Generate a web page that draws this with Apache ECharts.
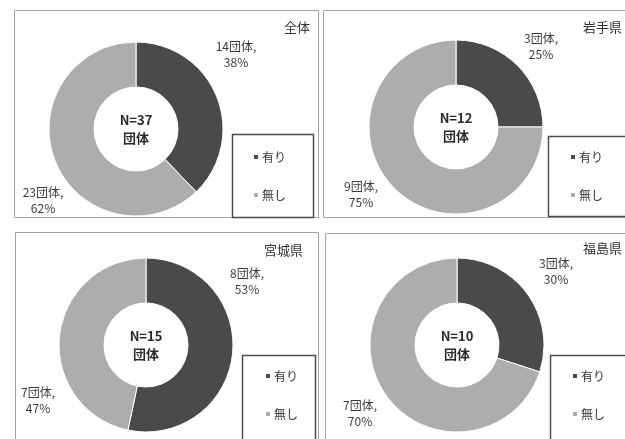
<!DOCTYPE html>
<html>
<head>
<meta charset="utf-8">
<script src="https://cdn.jsdelivr.net/npm/echarts@6/dist/echarts.min.js"></script>
<style>
  html, body { margin: 0; padding: 0; background: #ffffff; }
  #chart { width: 625px; height: 439px; }
</style>
</head>
<body>
<div id="chart"></div>
<script>
// Regions shown in the four donut panels
const regions = ['全体', '岩手県', '宮城県', '福島県'];
// Categories of the answer
const categories = ['有り', '無し'];
// Number of groups answering "有り" / "無し" per region
const countYes = [14, 3, 8, 3];
const countNo = [23, 9, 7, 7];

// Panel layout (pixels): frame, donut centre, legend box, legend items, title, label anchors
const layout = [
  { frame: [14, 10, 304, 207], center: [136, 129], legendBox: [232, 134, 81, 83], legend: [247, 145], title: [310, 27],
    labels: [[236, 54], [43, 200]] },
  { frame: [323, 10, 310, 207], center: [456, 127], legendBox: [548, 136, 85, 80], legend: [564, 145], title: [622, 27],
    labels: [[541, 46], [361, 194]] },
  { frame: [15, 232, 303, 215], center: [146, 345], legendBox: [242, 355, 73, 90], legend: [259, 364], title: [303, 250],
    labels: [[247, 281], [38, 400]] },
  { frame: [325, 233, 310, 215], center: [457, 345], legendBox: [550, 355, 85, 90], legend: [566, 364], title: [622, 248],
    labels: [[556, 271], [360, 413]] }
];

const DARK = '#4a4a4a';
const LIGHT = '#adadad';
const FONT = '"Noto Sans CJK JP", "Noto Sans", sans-serif';

const chart = echarts.init(document.getElementById('chart'), null, { renderer: 'canvas' });

const series = [];
const legends = [];
const graphics = [];

regions.forEach(function (name, i) {
  const L = layout[i];
  const total = countYes[i] + countNo[i];

  // panel frame
  graphics.push({
    type: 'rect', z: 0, silent: true,
    shape: { x: L.frame[0] + 0.5, y: L.frame[1] + 0.5, width: L.frame[2], height: L.frame[3] },
    style: { fill: '#ffffff', stroke: '#a3a3a3', lineWidth: 1 }
  });
  // legend box
  graphics.push({
    type: 'rect', z: 1, silent: true,
    shape: { x: L.legendBox[0] + 0.5, y: L.legendBox[1] + 0.5, width: L.legendBox[2], height: L.legendBox[3] },
    style: { fill: 'none', stroke: '#4d4d4d', lineWidth: 1.5 }
  });
  // region title
  graphics.push({
    type: 'text', z: 5, silent: true,
    x: L.title[0], y: L.title[1],
    style: { text: name, fill: '#333333', font: '13px ' + FONT, textAlign: 'right', textVerticalAlign: 'middle' }
  });

  legends.push({
    left: L.legend[0], top: L.legend[1],
    orient: 'vertical',
    data: categories,
    icon: 'rect',
    itemWidth: 6, itemHeight: 6,
    itemGap: 24,
    selectedMode: false,
    textStyle: { fontFamily: FONT, fontSize: 12, color: '#333333', lineHeight: 14, padding: [0, 0, 0, -2] }
  });

  series.push({
    type: 'pie',
    name: name,
    center: L.center,
    radius: [42, 87],
    startAngle: 90,
    clockwise: true,
    avoidLabelOverlap: false,
    silent: true,
    itemStyle: { borderColor: '#ffffff', borderWidth: 1 },
    label: {
      show: true,
      position: 'outside',
      fontFamily: FONT,
      fontSize: 12,
      lineHeight: 16,
      color: '#3a3a3a',
      align: 'center',
      formatter: function (p) {
        return p.value + '団体,\n' + Math.round(p.percent) + '%';
      }
    },
    labelLine: { show: false },
    labelLayout: function (params) {
      const pos = L.labels[params.dataIndex];
      return { x: pos[0], y: pos[1], align: 'center', verticalAlign: 'middle' };
    },
    data: [
      { name: categories[0], value: countYes[i], itemStyle: { color: DARK } },
      { name: categories[1], value: countNo[i], itemStyle: { color: LIGHT } }
    ]
  });

  // centre caption: total count
  series.push({
    type: 'pie',
    center: L.center,
    radius: [0, 40],
    silent: true,
    itemStyle: { color: 'rgba(0,0,0,0)' },
    label: {
      show: true,
      position: 'center',
      fontFamily: FONT,
      fontSize: 13,
      fontWeight: 'bold',
      lineHeight: 18,
      color: '#2a2a2a',
      formatter: 'N=' + total + '\n団体'
    },
    labelLine: { show: false },
    data: [{ name: '', value: total }]
  });
});

chart.setOption({
  animation: false,
  backgroundColor: '#ffffff',
  color: [DARK, LIGHT],
  legend: legends,
  graphic: { elements: graphics },
  series: series
});
</script>
</body>
</html>
